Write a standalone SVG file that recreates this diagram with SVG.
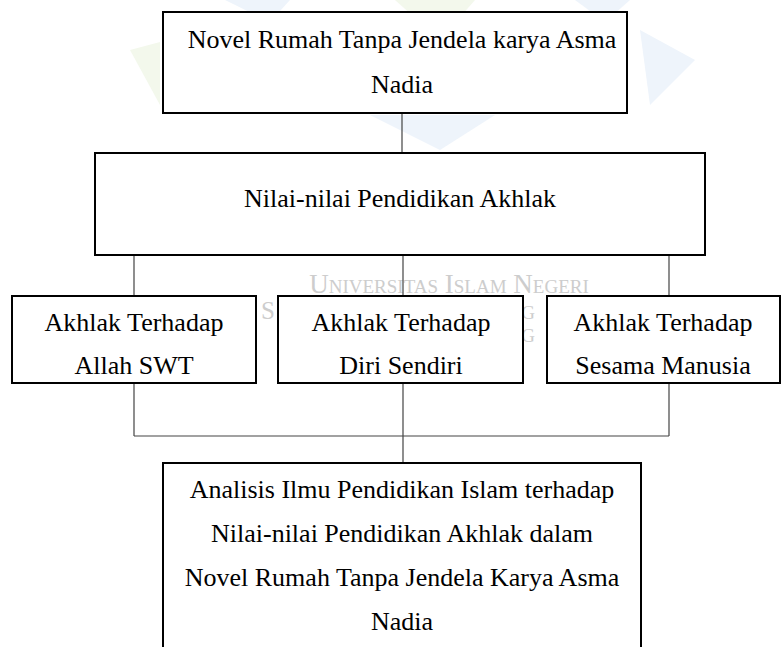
<svg xmlns="http://www.w3.org/2000/svg" width="781" height="647" viewBox="0 0 781 647">
<style>
.box{fill:#fff;stroke:#000;stroke-width:2}
.t{font-family:"Liberation Serif","Times New Roman",serif;font-size:26px;fill:#000;text-anchor:middle}
.c{stroke:#444;stroke-width:1.2;fill:none}
.wm{font-family:"Liberation Serif","Times New Roman",serif;fill:#cdcdcd;text-anchor:middle}
.pb{fill:#eef4fb}
.pg{fill:#f3f8ec}
</style>
<rect width="781" height="647" fill="#fff"/>
<g id="watermark">
<polygon class="pg" points="395,0 475,0 440,40"/>
<polygon class="pb" points="225,0 290,0 270,22"/>
<polygon class="pb" points="575,0 630,0 605,22"/>
<polygon class="pb" points="640,30 695,60 650,105"/>
<polygon class="pg" points="130,50 160,42 160,105"/>
<polygon class="pb" points="370,115 495,115 440,150"/>
<text class="wm" x="449" y="293" font-size="27" style="font-variant:small-caps">Universitas Islam Negeri</text>
<text class="wm" x="268" y="319" font-size="25">S</text>
<text class="wm" x="528" y="319" font-size="19">G</text>
<text class="wm" x="528" y="342" font-size="19">G</text>
</g>
<g id="connectors">
<line class="c" x1="402" y1="113" x2="402" y2="153"/>
<line class="c" x1="134" y1="255" x2="134" y2="296"/>
<line class="c" x1="403" y1="255" x2="403" y2="296"/>
<line class="c" x1="669" y1="255" x2="669" y2="296"/>
<line class="c" x1="134" y1="383" x2="134" y2="436"/>
<line class="c" x1="403" y1="383" x2="403" y2="463"/>
<line class="c" x1="669" y1="383" x2="669" y2="436"/>
<line class="c" x1="134" y1="436" x2="669" y2="436"/>
</g>
<g id="novel">
<rect class="box" x="163" y="12" width="464" height="101"/>
<text class="t" x="402" y="48">Novel Rumah Tanpa Jendela karya Asma</text>
<text class="t" x="402" y="93">Nadia</text>
</g>
<g id="nilai">
<rect class="box" x="95" y="153" width="610" height="102"/>
<text class="t" x="400" y="207">Nilai-nilai Pendidikan Akhlak</text>
</g>
<g id="allah">
<rect class="box" x="12" y="296" width="244" height="87"/>
<text class="t" x="134" y="331">Akhlak Terhadap</text>
<text class="t" x="134" y="374">Allah SWT</text>
</g>
<g id="diri">
<rect class="box" x="278" y="296" width="245" height="87"/>
<text class="t" x="401" y="331">Akhlak Terhadap</text>
<text class="t" x="401" y="374">Diri Sendiri</text>
</g>
<g id="sesama">
<rect class="box" x="547" y="296" width="233" height="87"/>
<text class="t" x="663" y="331">Akhlak Terhadap</text>
<text class="t" x="663" y="374">Sesama Manusia</text>
</g>
<g id="analisis">
<rect class="box" x="163" y="463" width="478" height="200"/>
<text class="t" x="402" y="498">Analisis Ilmu Pendidikan Islam terhadap</text>
<text class="t" x="402" y="542">Nilai-nilai Pendidikan Akhlak dalam</text>
<text class="t" x="402" y="586">Novel Rumah Tanpa Jendela Karya Asma</text>
<text class="t" x="402" y="630">Nadia</text>
</g>
</svg>
